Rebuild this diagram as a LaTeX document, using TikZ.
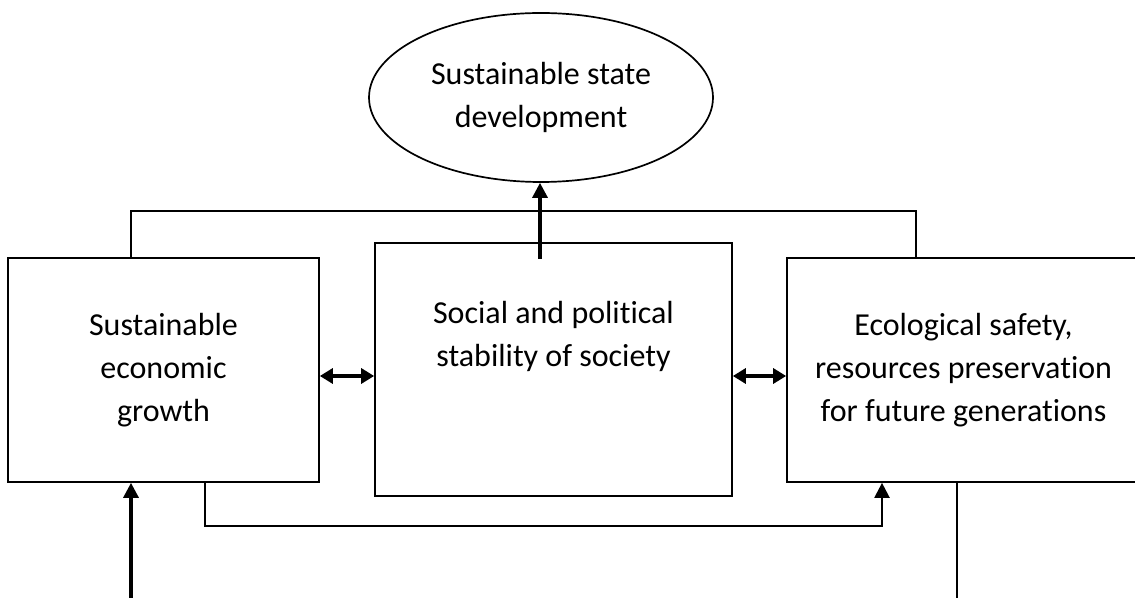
\documentclass[tikz,border=0pt]{standalone}
\usepackage{fontspec}
\setmainfont[Ligatures=NoCommon]{Carlito}
\usetikzlibrary{shapes.geometric,arrows.meta}
\begin{document}
\begin{tikzpicture}[x=0.5pt,y=-0.5pt,
    every node/.style={font=\fontsize{16}{21.5}\selectfont, align=center},
    block/.style={draw, line width=0.85pt, inner sep=0pt},
    link/.style={line width=1pt},
    uparrow/.style={line width=1.6pt, -{Triangle[length=7.5pt,width=7.5pt]}},
    linkarrow/.style={line width=1.1pt, -{Triangle[length=7.5pt,width=7.5pt]}},
    bothways/.style={line width=1.6pt, {Triangle[length=6.5pt,width=7.5pt]}-{Triangle[length=6.5pt,width=7.5pt]}}]
    \useasboundingbox 
        (0,0) rectangle (1135,598);
    \clip 
        (0,0) rectangle (1135,598);
    \node[block, ellipse, minimum width=172pt, minimum height=84.5pt] 
        (state) at (541,97.5) {Sustainable state\\development};
    \node[block, minimum width=155.5pt, minimum height=112pt] 
        (econ) at (163.5,370) {Sustainable\\economic\\growth};
    \node[block, minimum width=178.5pt, minimum height=126.5pt] 
        (social) at (553.5,369.5) {};
    \node 
        (socialtext) at (553.5,336) {Social and political\\stability of society};
    \node[block, minimum width=176.5pt, minimum height=112pt] 
        (ecol) at (963.5,370) {Ecological safety,\\resources preservation\\for future generations};
    \coordinate (tl) at (131,211);
    \coordinate (tr) at (916,211);
    \coordinate (bl) at (205,526);
    \coordinate (br) at (882,526);
    \coordinate (mid) at (0,376);
    \coordinate (start) at (540,259);
    \coordinate (in) at (131,598);
    \coordinate (out) at (957,598);
    \draw 
        [link] (econ.north -| tl) -- (tl) -- (tr) -- (ecol.north -| tr);
    \draw 
        [uparrow] (start) -- (start |- state.south);
    \draw 
        [bothways] (econ.east |- mid) -- (social.west |- mid);
    \draw 
        [bothways] (social.east |- mid) -- (ecol.west |- mid);
    \draw 
        [linkarrow] (econ.south -| bl) -- (bl) -- (br) -- (ecol.south -| br);
    \draw 
        [uparrow] (in) -- (econ.south -| in);
    \draw 
        [link] (ecol.south -| out) -- (out);
\end{tikzpicture}
\end{document}
